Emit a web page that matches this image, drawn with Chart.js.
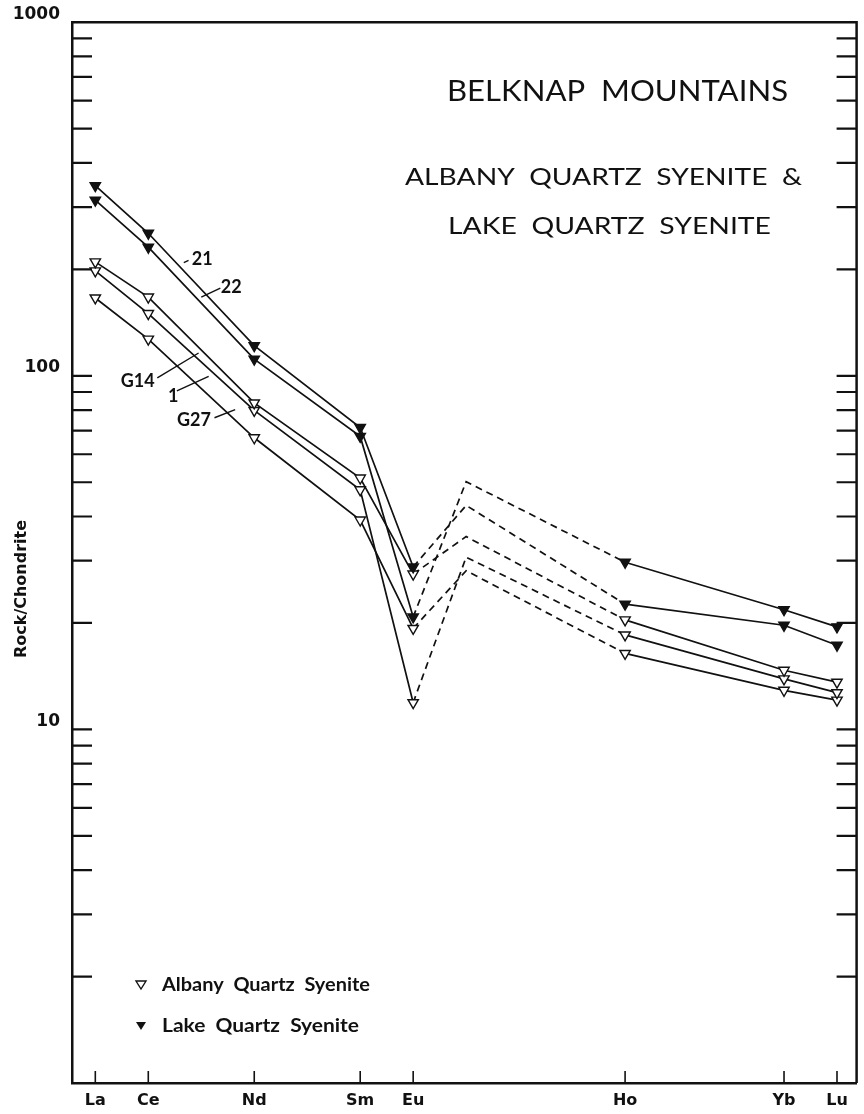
<!DOCTYPE html>
<html>
<head>
<meta charset="utf-8">
<script src="https://cdn.jsdelivr.net/npm/chart.js@4.4.1/dist/chart.umd.min.js"></script>
<style>
  html, body { margin: 0; padding: 0; background: #fff; }
  #wrap { width: 864px; height: 1114px; }
</style>
</head>
<body>
<div id="wrap"><canvas id="ree"></canvas></div>
<script>
// REE by atomic number; Gd (64) is interpolated, no symbol, no label
const elements = ['La', 'Ce', 'Nd', 'Sm', 'Eu', 'Gd', 'Ho', 'Yb', 'Lu'];
const atomicNumbers = [57, 58, 60, 62, 63, 64, 67, 70, 71];
const xTickElements = ['La', 'Ce', 'Nd', 'Sm', 'Eu', 'Ho', 'Yb', 'Lu'];

// Lake Quartz Syenite (filled)
const sample21 = [345, 253, 121.7, 71.4, 28.8, 43.0, 22.6, 19.7, 17.3];
const sample22 = [314, 231, 111.5, 67.4, 20.8, 50.2, 29.7, 21.8, 19.5];
// Albany Quartz Syenite (open)
const sampleG14 = [210, 167, 83.8, 51.4, 27.5, 35.1, 20.4, 14.7, 13.6];
const sample1 = [198, 150, 79.8, 47.6, 11.9, 30.7, 18.5, 13.9, 12.7];
const sampleG27 = [166, 127, 66.8, 39.1, 19.3, 28.1, 16.4, 12.9, 12.1];

const yTickValues = [1, 2, 3, 4, 5, 6, 7, 8, 9, 10, 20, 30, 40, 50, 60, 70, 80, 90, 100,
  200, 300, 400, 500, 600, 700, 800, 900, 1000];
const yTickLabels = { 10: '10', 100: '100', 1000: '1000' };

// sample labels with leader lines, in data units (atomic number, ratio)
const sampleLabels = [
  { text: '21', at: [58.82, 213], align: 'left', lead: [[58.67, 209], [58.76, 212]] },
  { text: '22', at: [59.37, 177.6], align: 'left', lead: [[59.0, 167], [59.36, 177]] },
  { text: 'G14', at: [58.12, 96.4], align: 'right', lead: [[58.17, 98.6], [58.95, 116]] },
  { text: '1', at: [58.47, 87.8], align: 'center', lead: [[58.54, 90.7], [59.14, 99.6]] },
  { text: 'G27', at: [58.54, 75.1], align: 'left', lead: [[59.25, 76.1], [59.64, 80.2]] }
];

const ink = '#111';
const FONT = 'Lato, "DejaVu Sans", sans-serif';
const WIDE = '"DejaVu Sans", Lato, sans-serif';

function series(values) {
  return values.map((v, i) => ({ x: atomicNumbers[i], y: v }));
}

function makeSet(label, values, filled) {
  return {
    label: label,
    data: series(values),
    borderColor: ink,
    borderWidth: 1.7,
    pointStyle: 'triangle',
    rotation: 180,
    pointRadius: ctx => (elements[ctx.dataIndex] === 'Gd' ? 0 : 6),
    pointHoverRadius: ctx => (elements[ctx.dataIndex] === 'Gd' ? 0 : 6),
    pointBackgroundColor: filled ? ink : '#fff',
    pointBorderColor: ink,
    pointBorderWidth: 1.4,
    fill: false,
    tension: 0,
    segment: {
      borderDash: ctx => {
        const a = elements[ctx.p0DataIndex], b = elements[ctx.p1DataIndex];
        return (a === 'Gd' || b === 'Gd') ? [7, 5] : undefined;
      }
    }
  };
}

// draw text stretched horizontally to a given width, starting at left x
function wideText(ctx, text, left, y, width) {
  const w = ctx.measureText(text).width;
  ctx.save();
  ctx.translate(left, y);
  ctx.scale(width / w, 1);
  ctx.textAlign = 'left';
  ctx.fillText(text, 0, 0);
  ctx.restore();
}

const decorations = {
  id: 'decorations',
  afterDraw(chart) {
    const { ctx, chartArea: a, scales: { x, y } } = chart;
    ctx.save();
    ctx.strokeStyle = ink;
    ctx.fillStyle = ink;
    ctx.lineCap = 'butt';

    // top and right frame
    ctx.lineWidth = 2.5;
    ctx.beginPath();
    ctx.moveTo(a.left, a.top);
    ctx.lineTo(a.right, a.top);
    ctx.lineTo(a.right, a.bottom);
    ctx.stroke();

    // inward y ticks on both sides
    ctx.lineWidth = 2.2;
    yTickValues.forEach(v => {
      if (v === 1 || v === 1000) return;
      const py = y.getPixelForValue(v);
      ctx.beginPath();
      ctx.moveTo(a.left, py); ctx.lineTo(a.left + 20, py);
      ctx.moveTo(a.right, py); ctx.lineTo(a.right - 20, py);
      ctx.stroke();
    });

    // upward x ticks
    ctx.lineWidth = 1.6;
    xTickElements.forEach(el => {
      const px = x.getPixelForValue(atomicNumbers[elements.indexOf(el)]);
      ctx.beginPath();
      ctx.moveTo(px, a.bottom); ctx.lineTo(px, a.bottom - 12);
      ctx.stroke();
    });

    // y axis title
    ctx.save();
    ctx.translate(22, 589);
    ctx.rotate(-Math.PI / 2);
    ctx.font = 'bold 15px ' + WIDE;
    ctx.textBaseline = 'middle';
    wideText(ctx, 'Rock/Chondrite', -69, 0, 138);
    ctx.restore();

    // sample labels
    ctx.font = 'bold 18px ' + FONT;
    ctx.textBaseline = 'middle';
    ctx.lineWidth = 1.4;
    sampleLabels.forEach(s => {
      ctx.beginPath();
      ctx.moveTo(x.getPixelForValue(s.lead[0][0]), y.getPixelForValue(s.lead[0][1]));
      ctx.lineTo(x.getPixelForValue(s.lead[1][0]), y.getPixelForValue(s.lead[1][1]));
      ctx.stroke();
      ctx.textAlign = s.align;
      ctx.fillText(s.text, x.getPixelForValue(s.at[0]), y.getPixelForValue(s.at[1]));
    });

    // titles
    ctx.font = '28px ' + FONT;
    wideText(ctx, 'BELKNAP  MOUNTAINS', a.left + 375, 92, 341);
    ctx.font = '24px ' + FONT;
    wideText(ctx, 'ALBANY  QUARTZ  SYENITE  &', a.left + 333, 177, 397);
    wideText(ctx, 'LAKE  QUARTZ  SYENITE', a.left + 376, 226, 323);

    // legend
    ctx.font = 'bold 18px ' + FONT;
    const lx = a.left + 69;
    [['Albany  Quartz  Syenite', false, 985, 208], ['Lake  Quartz  Syenite', true, 1026, 197]].forEach(([t, filled, ly, tw]) => {
      ctx.beginPath();
      ctx.moveTo(lx - 5, ly - 4);
      ctx.lineTo(lx + 5, ly - 4);
      ctx.lineTo(lx, ly + 4);
      ctx.closePath();
      ctx.lineWidth = 1.4;
      if (filled) { ctx.fill(); } else { ctx.stroke(); }
      wideText(ctx, t, lx + 21, ly, tw);
    });
    ctx.restore();
  }
};

new Chart(document.getElementById('ree'), {
  type: 'line',
  data: {
    datasets: [
      makeSet('21', sample21, true),
      makeSet('22', sample22, true),
      makeSet('G14', sampleG14, false),
      makeSet('1', sample1, false),
      makeSet('G27', sampleG27, false)
    ]
  },
  options: {
    responsive: true,
    maintainAspectRatio: false,
    animation: false,
    layout: { padding: { top: 22, right: 2, left: 0, bottom: 0 } },
    plugins: {
      legend: { display: false },
      tooltip: { enabled: false }
    },
    scales: {
      x: {
        type: 'linear',
        min: 56.56,
        max: 71.37,
        grid: { display: false, drawTicks: false },
        border: { display: true, color: ink, width: 2.5 },
        afterBuildTicks: scale => {
          scale.ticks = xTickElements.map(el => ({ value: atomicNumbers[elements.indexOf(el)] }));
        },
        afterFit: scale => { scale.height = 31; },
        ticks: {
          color: ink,
          padding: 8,
          autoSkip: false,
          maxRotation: 0,
          font: { family: WIDE, size: 16, weight: 'bold' },
          callback: v => elements[atomicNumbers.indexOf(v)] || ''
        }
      },
      y: {
        type: 'logarithmic',
        min: 1,
        max: 1000,
        grid: { display: false, drawTicks: false },
        border: { display: true, color: ink, width: 2.5 },
        afterBuildTicks: scale => {
          scale.ticks = yTickValues.map(v => ({ value: v }));
        },
        afterFit: scale => { scale.width = 72; },
        ticks: {
          color: ink,
          padding: 12,
          labelOffset: -8,
          autoSkip: false,
          font: { family: WIDE, size: 17, weight: 'bold' },
          callback: v => yTickLabels[v] || ''
        }
      }
    }
  },
  plugins: [decorations]
});
</script>
</body>
</html>
